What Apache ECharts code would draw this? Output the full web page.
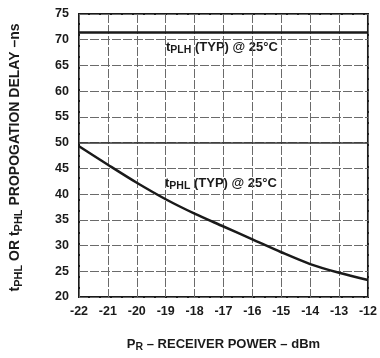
<!DOCTYPE html>
<html>
<head>
<meta charset="utf-8">
<script src="https://cdn.jsdelivr.net/npm/echarts@6/dist/echarts.min.js"></script>
<style>
  html, body { margin: 0; padding: 0; background: #fff; }
  #chart { width: 380px; height: 358px; }
</style>
</head>
<body>
<div id="chart"></div>
<script>
// Receiver power (dBm) on the x axis
const powerDbm = [-22, -21, -20, -19, -18, -17, -16, -15, -14, -13, -12];
// Propagation delay, low-to-high (ns): flat over the whole range
const tplhNs = [71.4, 71.4, 71.4, 71.4, 71.4, 71.4, 71.4, 71.4, 71.4, 71.4, 71.4];
// Propagation delay, high-to-low (ns)
const tphlNs = [49.3, 45.7, 42.2, 39.0, 36.2, 33.7, 31.2, 28.7, 26.4, 24.7, 23.3];
// Y axis range and step
const delayMin = 20, delayMax = 75, delayStep = 5;
// Reference level drawn as a heavier rule
const refDelay = 50;

const font = 'Liberation Sans, Arial, sans-serif';
const ink = '#1a1a1a';

const chart = echarts.init(document.getElementById('chart'), null, { renderer: 'canvas' });

chart.setOption({
  backgroundColor: '#ffffff',
  animation: false,
  grid: { left: 79, right: 10, top: 14, bottom: 53, show: true, borderColor: ink, borderWidth: 2 },
  xAxis: {
    type: 'value',
    min: -22, max: -12, interval: 1,
    name: 'P{s|R} – RECEIVER POWER – dBm',
    nameLocation: 'middle',
    nameGap: 39,
    nameTextStyle: {
      fontFamily: font, fontWeight: 'bold', fontSize: 13, color: ink,
      rich: { s: { fontFamily: font, fontWeight: 'bold', fontSize: 10.5, color: ink, padding: [6, 0, 0, 0] } }
    },
    axisLine: { show: false },
    axisTick: { show: false },
    axisLabel: { fontFamily: font, fontWeight: 'bold', fontSize: 12.5, color: ink, margin: 8 },
    splitLine: { show: true, lineStyle: { color: '#6a6a6a', width: 1, type: [9, 2] } }
  },
  yAxis: {
    type: 'value',
    min: delayMin, max: delayMax, interval: delayStep,
    name: 't{s|PHL} OR t{s|PHL} PROPOGATION DELAY –ns',
    nameLocation: 'middle',
    nameGap: 55,
    nameRotate: 90,
    nameTextStyle: {
      fontFamily: font, fontWeight: 'bold', fontSize: 14, color: ink,
      padding: [0, 4, 0, 0],
      rich: { s: { fontFamily: font, fontWeight: 'bold', fontSize: 11, color: ink, padding: [6, 0, 0, 0] } }
    },
    axisLine: { show: false },
    axisTick: { show: false },
    axisLabel: { fontFamily: font, fontWeight: 'bold', fontSize: 12.5, color: ink, margin: 10 },
    splitLine: { show: true, lineStyle: { color: '#6a6a6a', width: 1, type: [9, 2] } }
  },
  series: [
    {
      name: 'tPLH',
      type: 'line',
      data: powerDbm.map((p, i) => [p, tplhNs[i]]),
      symbol: 'none',
      lineStyle: { color: ink, width: 2.5 },
      markLine: {
        silent: true,
        symbol: 'none',
        label: { show: false },
        lineStyle: { color: '#333', width: 1.5, type: 'solid' },
        data: [{ yAxis: refDelay }]
      }
    },
    {
      name: 'tPHL',
      type: 'line',
      data: powerDbm.map((p, i) => [p, tphlNs[i]]),
      symbol: 'none',
      smooth: 0.3,
      lineStyle: { color: ink, width: 2.5 }
    }
  ],
  graphic: [
    {
      type: 'text', left: 166, top: 41,
      style: {
        text: 't{s|PLH} (TYP) @ 25°C',
        font: 'bold 13px ' + font, fill: ink,
        rich: { s: { font: 'bold 10.5px ' + font, fill: ink, padding: [6, 0, 0, 0] } }
      }
    },
    {
      type: 'text', left: 165, top: 177,
      style: {
        text: 't{s|PHL} (TYP) @ 25°C',
        font: 'bold 13px ' + font, fill: ink,
        rich: { s: { font: 'bold 10.5px ' + font, fill: ink, padding: [6, 0, 0, 0] } }
      }
    }
  ]
});
</script>
</body>
</html>
